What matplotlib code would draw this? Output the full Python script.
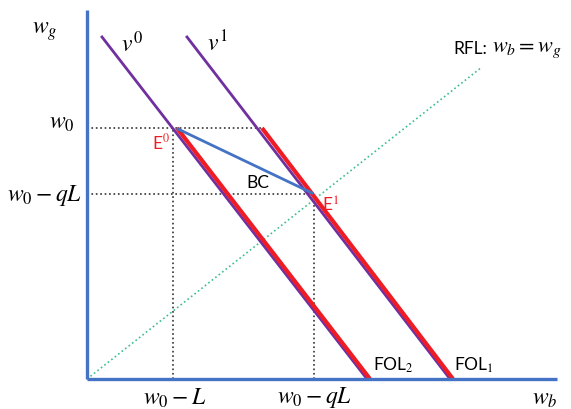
'''sketch of the FOL / BC diagram
'''
import matplotlib
matplotlib.use('Agg')
import matplotlib.pyplot as plt

# key levels on the axes
w0 = 251
w0_qL = 185
x_E0 = 86     # w0 - L
x_E1 = 227    # w0 - qL

# indifference curves
v0_x = [15, 280]
v0_y = [342, 0]
v1_x = [100, 363]
v1_y = [342, 0]

# fair odds lines (red)
fol2_x = [90, 283]
fol2_y = [251, 0]
fol1_x = [175, 366]
fol1_y = [251, 0]

# budget constraint
bc_x = [91, 225]
bc_y = [250, 186]

# risk free line
rfl_x = [0, 395]
rfl_y = [0, 312]

axis_blue = '#4472C4'
purple = '#7030A0'
red = '#F01C24'
green = '#3DBE8E'

plt.rcParams['mathtext.fontset'] = 'stix'
plt.rcParams['font.family'] = ['Lato', 'DejaVu Sans']

fig = plt.figure(figsize=(5.71, 4.09), dpi=100)
ax = fig.add_axes([0, 0, 1, 1])
ax.set_xlim(-87, 484)
ax.set_ylim(-30, 379)
ax.axis('off')

# dotted guides
ax.plot([0, 175], [w0, w0], ls=':', color='#333333', lw=1.2)
ax.plot([0, x_E1], [w0_qL, w0_qL], ls=':', color='#333333', lw=1.2)
ax.plot([x_E0, x_E0], [0, w0], ls=':', color='#333333', lw=1.2)
ax.plot([x_E1, x_E1], [0, w0_qL], ls=':', color='#333333', lw=1.2)

ax.plot(rfl_x, rfl_y, ls=':', color=green, lw=1.2)

ax.plot(v0_x, v0_y, color=purple, lw=2.0)
ax.plot(v1_x, v1_y, color=purple, lw=2.0)
ax.plot(fol2_x, fol2_y, color=red, lw=3.0, solid_capstyle='butt')
ax.plot(fol1_x, fol1_y, color=red, lw=3.0, solid_capstyle='butt')
ax.plot(bc_x, bc_y, color=axis_blue, lw=2.0)

# axes
ax.plot([0, 0], [0, 369], color=axis_blue, lw=2.4, solid_capstyle='butt')
ax.plot([0, 470], [0, 0], color=axis_blue, lw=2.4, solid_capstyle='butt')

ms = 17
ax.text(-42, 347, r'$w_g$', fontsize=ms, ha='center', va='center')
ax.text(45, 336, r'$v^0$', fontsize=ms, ha='center', va='center')
ax.text(130, 336, r'$v^1$', fontsize=ms, ha='center', va='center')
ax.text(-12, 255, r'$w_0$', fontsize=ms, ha='right', va='center')
ax.text(-5, 183, r'$w_0 - qL$', fontsize=ms, ha='right', va='center')
ax.text(88, -19, r'$w_0 - L$', fontsize=ms, ha='center', va='center')
ax.text(228, -19, r'$w_0 - qL$', fontsize=ms, ha='center', va='center')
ax.text(458, -21, r'$w_b$', fontsize=ms, ha='center', va='center')

ts = 12.5
ax.text(83, 237, r'E$^0$', fontsize=ts, color=red, ha='right', va='center')
ax.text(235, 174, r'E$^1$', fontsize=ts, color=red, ha='left', va='center')
ax.text(171, 196, 'BC', fontsize=ts, ha='center', va='center')
ax.text(366, 330, 'RFL:', fontsize=ts, ha='left', va='center')
ax.text(405, 329, r'$w_b = w_g$', fontsize=16, ha='left', va='center')
ax.text(286, 14, r'FOL$_2$', fontsize=ts, ha='left', va='center')
ax.text(367, 14, r'FOL$_1$', fontsize=ts, ha='left', va='center')

plt.savefig('out.png', dpi=100)
